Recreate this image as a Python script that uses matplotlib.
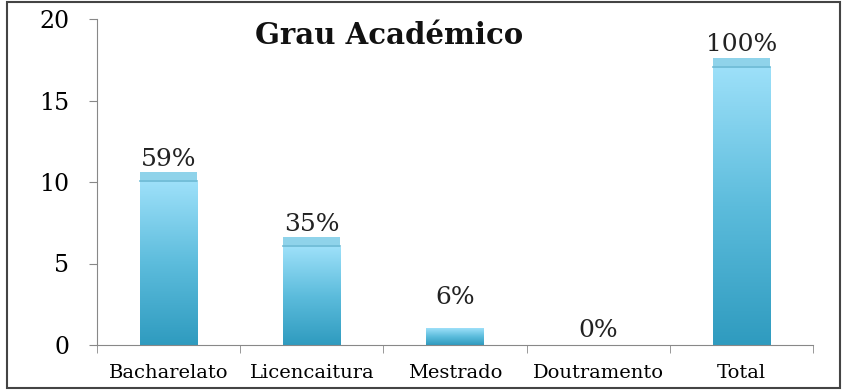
import numpy as np
import matplotlib.pyplot as plt
from matplotlib.patches import Rectangle
from matplotlib.colors import LinearSegmentedColormap

plt.rcParams['font.family'] = 'DejaVu Serif'

categorias = ['Bacharelato', 'Licencaitura', 'Mestrado', 'Doutramento', 'Total']
valores = [10, 6, 1, 0, 17]
percent = ['59%', '35%', '6%', '0%', '100%']

fig = plt.figure(figsize=(8.47, 3.9), dpi=100)
ax = fig.add_axes([97 / 847, 45 / 390, 716 / 847, 326 / 390])

cmap = LinearSegmentedColormap.from_list('grad', ['#2f9bbf', '#5cbcdc', '#9de0f9'])
grad = np.linspace(0, 1, 256).reshape(-1, 1)
w = 0.4
cap = 0.6

for i, v in enumerate(valores):
    if v > 0:
        ax.imshow(grad, extent=(i - w / 2, i + w / 2, 0, v), origin='lower',
                  cmap=cmap, aspect='auto', zorder=2)
        if v > 2:
            ax.add_patch(Rectangle((i - w / 2, v), w, cap, color='#8fd3ea', lw=0, zorder=2))
            ax.plot([i - w / 2, i + w / 2], [v + 0.05, v + 0.05], color='#6fbcd6', lw=1.2, zorder=3)
            ytxt = v + cap + 0.1
        else:
            ytxt = v + 1.2
    else:
        ytxt = 0.2
    ax.text(i, ytxt, percent[i], ha='center', va='bottom',
            fontsize=18, color='#222222', zorder=4)

ax.set_xlim(-0.5, len(categorias) - 0.5)
ax.set_ylim(0, 20)
ax.set_yticks([0, 5, 10, 15, 20])
ax.set_xticks(range(len(categorias)))
ax.set_xticklabels(categorias, fontsize=14)
ax.set_xticks(np.arange(-0.5, len(categorias)), minor=True)
ax.tick_params(axis='x', which='major', length=0, pad=14)
ax.tick_params(axis='x', which='minor', length=6, color='#888888', direction='out')
ax.tick_params(axis='y', length=6, color='#888888', pad=14, labelsize=17)
for s in ['top', 'right']:
    ax.spines[s].set_visible(False)
for s in ['left', 'bottom']:
    ax.spines[s].set_color('#888888')

ax.text(1.54, 19.9, 'Grau Académico', ha='center', va='top', fontsize=21,
        fontweight='bold', color='#111111')

fig.patches.append(Rectangle((7 / 847, 2 / 390), 833 / 847, 386 / 390, transform=fig.transFigure,
                             fill=False, edgecolor='#444444', lw=1.5))

fig.savefig('out.png', dpi=100)
